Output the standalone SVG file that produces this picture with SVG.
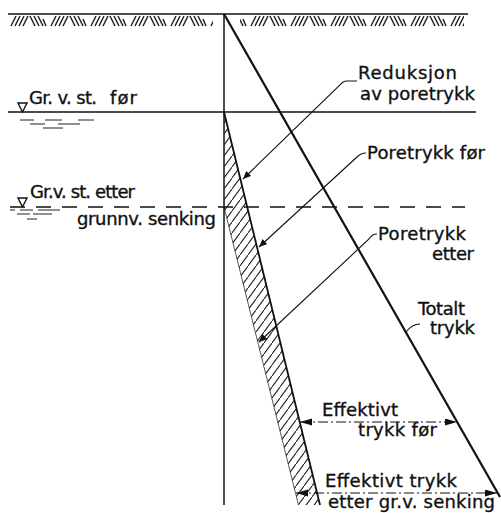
<svg xmlns="http://www.w3.org/2000/svg" width="501" height="513" viewBox="0 0 501 513">
<style>
.t{font-family:"DejaVu Sans","Liberation Sans",sans-serif;font-size:18px;fill:#111;stroke:#111;stroke-width:0.35;}
.ln{stroke:#111;fill:none;}
.thin{stroke:#111;stroke-width:1.1;fill:none;}
.rip{stroke:#222;stroke-width:1;}
</style>
<defs>
<pattern id="gnd" patternUnits="userSpaceOnUse" width="40" height="12" x="10" y="15">
<path d="M1,11 L6,1 M5,11 L10,1 M9,11 L14,1 M13,11 L18,1 M20,1 L25,11 M24,1 L29,11 M28,1 L33,11 M33,4 L36,11" stroke="#222" stroke-width="1.5" fill="none"/>
</pattern>
<pattern id="hatch" patternUnits="userSpaceOnUse" width="8" height="11" x="224" y="112">
<path d="M-0.8,12.1 L8.8,-1.1" stroke="#222" stroke-width="1.1" fill="none"/>
</pattern>
<marker id="ah" markerUnits="userSpaceOnUse" markerWidth="14" markerHeight="8" refX="12" refY="3.5" orient="auto-start-reverse">
<path d="M0,0 L12,3.5 L0,7 z" fill="#111"/>
</marker>
<marker id="lh" markerUnits="userSpaceOnUse" markerWidth="10" markerHeight="8" refX="8" refY="3.5" orient="auto">
<path d="M0,0 L8,3.5 L0,7 z" fill="#111"/>
</marker>
</defs>
<rect width="501" height="513" fill="#fff"/>

<g id="ground">
<rect x="10" y="15" width="203" height="12" fill="url(#gnd)"/>
<rect x="240" y="15" width="224" height="12" fill="url(#gnd)"/>
<line class="ln" x1="8" y1="14" x2="468" y2="14" stroke-width="1.6"/>
</g>

<g id="wall">
<line class="ln" x1="224" y1="14" x2="224" y2="505" stroke-width="1.5"/>
</g>

<g id="water-before">
<line class="ln" x1="8" y1="112" x2="476" y2="112" stroke-width="1.5"/>
<polygon points="18,103 27,103 22.5,112" fill="#fff" stroke="#111" stroke-width="1.4"/>
<g class="rip">
<line x1="20" y1="120" x2="34" y2="120"/><line x1="45" y1="120" x2="62" y2="120"/><line x1="78" y1="120" x2="94" y2="120"/>
<line x1="30" y1="124" x2="45" y2="124"/><line x1="58" y1="124" x2="80" y2="124"/>
<line x1="43" y1="128" x2="63" y2="128"/>
</g>
<text class="t" x="29" y="104" textLength="68">Gr. v. st.</text>
<text class="t" x="110" y="104" textLength="27">før</text>
</g>

<g id="water-after">
<line class="ln" x1="10" y1="207" x2="465" y2="207" stroke-width="1.4" stroke-dasharray="15 11"/>
<polygon points="18,198 27,198 22.5,207" fill="#fff" stroke="#111" stroke-width="1.4"/>
<g class="rip">
<line x1="10" y1="210" x2="15" y2="210"/><line x1="20" y1="210" x2="33" y2="210"/><line x1="38" y1="210" x2="60" y2="210"/>
<line x1="17" y1="214" x2="30" y2="214"/><line x1="33" y1="214" x2="52" y2="214"/>
<line x1="27" y1="219" x2="37" y2="219"/>
</g>
<text class="t" x="30" y="198" textLength="105">Gr.v. st. etter</text>
<text class="t" x="77" y="225" textLength="139">grunnv. senking</text>
</g>

<g id="pore-pressure">
<polygon points="224,112 320,505 298.5,505 224,207" fill="url(#hatch)"/>
<line class="ln" x1="224" y1="112" x2="320" y2="505" stroke-width="1.8"/>
<line class="ln" x1="224" y1="207" x2="298.5" y2="505" stroke-width="0.7" stroke="#666"/>
</g>

<g id="total-pressure">
<line class="ln" x1="224" y1="14" x2="500" y2="497" stroke-width="2.2"/>
</g>

<g id="connectors">
<path class="thin" d="M357,81 L347,81 Q343,81 340,85 L243,179" marker-end="url(#lh)"/>
<path class="thin" d="M366,153 Q361,153 357,157 L259,247" marker-end="url(#lh)"/>
<path class="thin" d="M377,234 Q372,234 369,239 L259,342" marker-end="url(#lh)"/>
<path class="thin" d="M420,324 Q412,324 406,332"/>
<line class="thin" x1="300" y1="422" x2="457" y2="422" stroke-dasharray="10 3 2 3" marker-start="url(#ah)" marker-end="url(#ah)"/>
<line class="thin" x1="296" y1="493" x2="497" y2="493" stroke-dasharray="10 3 2 3" marker-start="url(#ah)" marker-end="url(#ah)"/>
</g>

<g id="label-reduksjon">
<text class="t" x="358" y="79" textLength="99">Reduksjon</text>
<text class="t" x="360" y="100" textLength="115">av poretrykk</text>
</g>
<g id="label-poretrykk-for">
<text class="t" x="367" y="159" textLength="118">Poretrykk før</text>
</g>
<g id="label-poretrykk-etter">
<text class="t" x="378" y="240" textLength="88">Poretrykk</text>
<text class="t" x="432" y="260" textLength="42">etter</text>
</g>
<g id="label-totalt">
<text class="t" x="418" y="315" textLength="47">Totalt</text>
<text class="t" x="430" y="334" textLength="45">trykk</text>
</g>
<g id="label-eff-for">
<text class="t" x="322" y="416" textLength="76">Effektivt</text>
<text class="t" x="358" y="436" textLength="79">trykk før</text>
</g>
<g id="label-eff-etter">
<text class="t" x="325" y="487" textLength="132">Effektivt trykk</text>
<text class="t" x="328" y="508" textLength="167">etter gr.v. senking</text>
</g>
</svg>
